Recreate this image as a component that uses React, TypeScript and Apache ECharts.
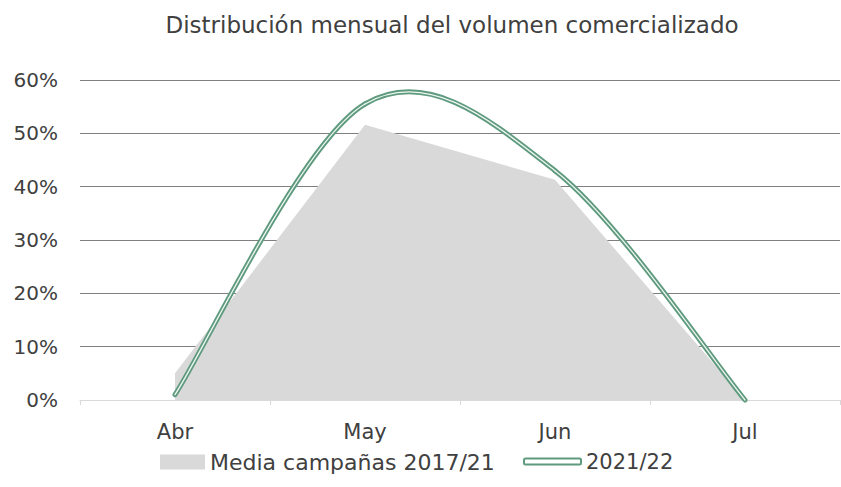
import React, { useEffect, useRef } from "react";
import * as echarts from "echarts";

const categories = ["Abr", "May", "Jun", "Jul"];
const mediaValues = [5, 51.6, 41.3, 0];
const campaignValues = [1, 55.5, 43, 0];
const yTicks = [0, 10, 20, 30, 40, 50, 60];

const GREEN = "#5e9a7e";
const GRAY = "#d9d9d9";
const TEXT = "#404040";
const FONT = "'DejaVu Sans', sans-serif";

export default function App() {
  const ref = useRef<HTMLDivElement>(null);
  useEffect(() => {
    if (!ref.current) return;
    const chart = echarts.init(ref.current, null, { renderer: "svg" });

    const renderCurve = (params: any, api: any) => {
      if (params.dataIndex !== 0) return { type: "group", children: [] };
      const pts = campaignValues.map((v, i) => api.coord([i, v]));
      const n = pts.length;
      const outer: any[] = [];
      const inner: any[] = [];
      for (let i = 0; i < n - 1; i++) {
        const p0 = pts[Math.max(i - 1, 0)];
        const p1 = pts[i];
        const p2 = pts[i + 1];
        const p3 = pts[Math.min(i + 2, n - 1)];
        const shape = {
          x1: p1[0],
          y1: p1[1],
          cpx1: p1[0] + (p2[0] - p0[0]) / 6,
          cpy1: p1[1] + (p2[1] - p0[1]) / 6,
          cpx2: p2[0] - (p3[0] - p1[0]) / 6,
          cpy2: p2[1] - (p3[1] - p1[1]) / 6,
          x2: p2[0],
          y2: p2[1],
        };
        outer.push({
          type: "bezierCurve",
          shape,
          style: { stroke: GREEN, lineWidth: 5, fill: null, lineCap: "round" },
        });
        inner.push({
          type: "bezierCurve",
          shape,
          style: { stroke: "#eef6f2", lineWidth: 1.3, fill: null, lineCap: "round" },
        });
      }
      return { type: "group", children: [...outer, ...inner] };
    };

    chart.setOption({
      animation: false,
      backgroundColor: "#ffffff",
      textStyle: { fontFamily: FONT },
      title: {
        text: "Distribución mensual del volumen comercializado",
        left: 447,
        textAlign: "center",
        top: 8,
        textStyle: { fontFamily: FONT, fontSize: 23, fontWeight: "normal", color: TEXT },
      },
      legend: [
        {
          data: ["Media campañas 2017/21"],
          left: 160,
          top: 451,
          padding: 0,
          icon: "rect",
          itemWidth: 45,
          itemHeight: 15,
          textStyle: { fontFamily: FONT, fontSize: 22, color: TEXT },
        },
        {
          data: [{ name: "2021/22", icon: "roundRect" }],
          left: 523,
          top: 451,
          padding: 0,
          itemWidth: 57,
          itemHeight: 6,
          itemStyle: { color: "#ffffff", borderColor: GREEN, borderWidth: 2 },
          textStyle: { fontFamily: FONT, fontSize: 21, color: TEXT },
        },
      ],
      grid: { left: 80, right: 1, top: 80, bottom: 87, containLabel: false },
      xAxis: {
        type: "category",
        data: categories,
        boundaryGap: true,
        axisLine: { show: true, lineStyle: { color: GRAY, width: 1 } },
        axisTick: { show: true, length: 5, lineStyle: { color: GRAY } },
        axisLabel: { fontFamily: FONT, fontSize: 21, color: TEXT, margin: 21 },
      },
      yAxis: {
        type: "value",
        min: yTicks[0],
        max: yTicks[yTicks.length - 1],
        interval: 10,
        axisLine: { show: false },
        axisTick: { show: false },
        axisLabel: { formatter: "{value}%", fontFamily: FONT, fontSize: 20, color: TEXT, margin: 22 },
        splitLine: {
          show: true,
          lineStyle: { color: [GRAY, "#7f7f7f", "#7f7f7f", "#7f7f7f", "#7f7f7f", "#7f7f7f", "#7f7f7f"], width: 1 },
        },
      },
      series: [
        {
          name: "Media campañas 2017/21",
          type: "line",
          data: mediaValues,
          symbol: "none",
          lineStyle: { width: 0, color: GRAY },
          itemStyle: { color: GRAY },
          areaStyle: { color: GRAY, opacity: 1 },
          z: 2,
        },
        {
          name: "2021/22",
          type: "custom",
          data: campaignValues.map((v, i) => [i, v]),
          encode: { x: 0, y: 1 },
          renderItem: renderCurve,
          itemStyle: { color: GREEN },
          z: 3,
        },
      ],
    });
    return () => chart.dispose();
  }, []);
  return (
    <div
      ref={ref}
      style={{ position: "fixed", left: 0, top: 0, width: 841, height: 487 }}
    />
  );
}
